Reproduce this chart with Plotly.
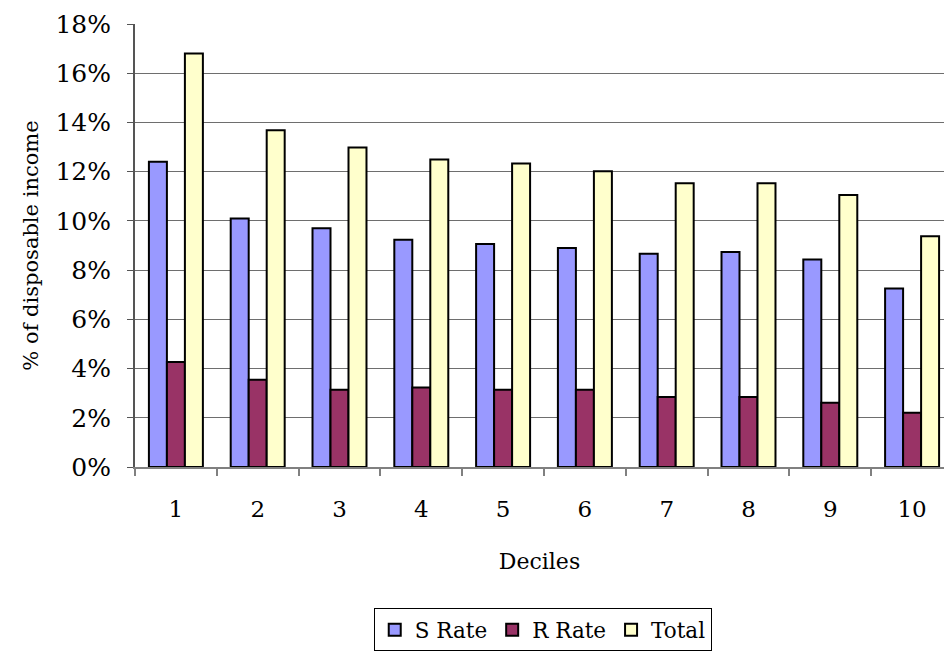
import plotly.graph_objects as go

# Decile categories and rates (% of disposable income)
deciles = ["1", "2", "3", "4", "5", "6", "7", "8", "9", "10"]
s_rate = [12.4, 10.1, 9.7, 9.23, 9.06, 8.9, 8.66, 8.74, 8.43, 7.25]
r_rate = [4.27, 3.55, 3.14, 3.23, 3.14, 3.14, 2.84, 2.84, 2.61, 2.2]
total = [16.8, 13.68, 12.98, 12.49, 12.33, 12.02, 11.53, 11.53, 11.05, 9.38]

y_ticks = [0, 2, 4, 6, 8, 10, 12, 14, 16, 18]
y_tick_labels = [f"{v}%" for v in y_ticks]

FONT = "DejaVu Serif"

fig = go.Figure()
series = [
    ("S Rate", s_rate, "#9999FF"),
    ("R Rate", r_rate, "#993366"),
    ("Total", total, "#FFFFCC"),
]
for name, vals, color in series:
    fig.add_trace(go.Bar(
        name=name,
        x=deciles,
        y=vals,
        marker=dict(color=color, line=dict(color="black", width=2)),
    ))

fig.update_layout(
    width=944,
    height=653,
    margin=dict(l=135, r=0, t=24, b=185.5, pad=0),
    paper_bgcolor="white",
    plot_bgcolor="white",
    barmode="group",
    bargap=0.34,
    bargroupgap=0,
    font=dict(family=FONT, size=22, color="black"),
    legend=dict(
        orientation="h",
        x=0.504,
        xanchor="center",
        y=-0.319,
        yanchor="top",
        bordercolor="black",
        borderwidth=1,
        font=dict(family=FONT, size=21.5, color="black"),
        itemwidth=30,
        tracegroupgap=0,
    ),
    showlegend=True,
)

fig.update_xaxes(
    type="category",
    range=[-0.5, 9.39],
    tickson="boundaries",
    ticks="outside",
    ticklen=7,
    tickcolor="#808080",
    tickwidth=2,
    showline=True,
    linecolor="#808080",
    linewidth=2,
    showgrid=False,
    ticklabelstandoff=20,
    title=dict(text="Deciles", standoff=33,
               font=dict(family=FONT, size=22, color="black")),
    tickfont=dict(family=FONT, size=23, color="black"),
)

fig.update_yaxes(
    range=[0, 18],
    tickmode="array",
    tickvals=y_ticks,
    ticktext=y_tick_labels,
    ticks="outside",
    ticklen=6,
    tickcolor="#555555",
    tickwidth=1,
    showline=True,
    linecolor="#555555",
    linewidth=2,
    showgrid=True,
    gridcolor="#6e6e6e",
    gridwidth=1,
    zeroline=False,
    ticklabelstandoff=11,
    title=dict(text="% of disposable income", standoff=11,
               font=dict(family=FONT, size=21, color="black")),
    tickfont=dict(family=FONT, size=25, color="black"),
)

fig.write_html("out.html")
